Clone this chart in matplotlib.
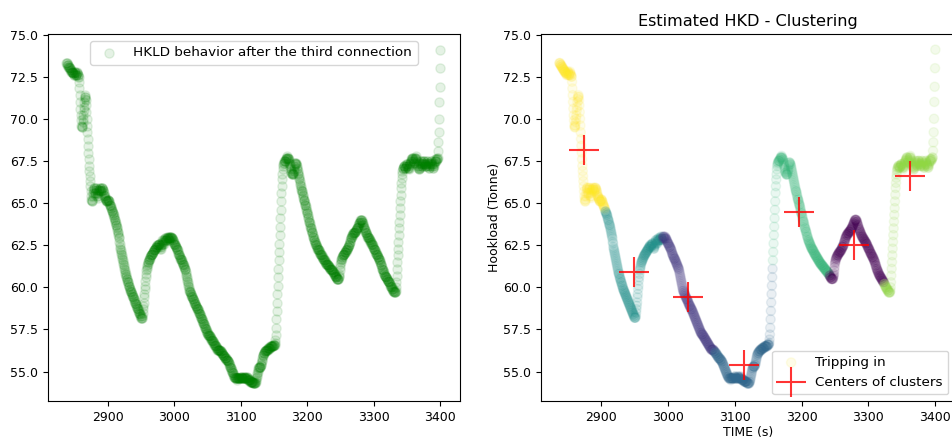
import matplotlib
matplotlib.use("Agg")
import matplotlib.pyplot as plt
import numpy as np

# hookload readings (tonne), one every 0.5 s starting at t = 2837 s
t_start = 2837.0
dt = 0.5
hookload = [
    73.3, 73.3, 73.3, 73.2, 73.2, 73.2, 73.1, 73.1, 73.1, 73.0, 73.0, 73.0, 72.9, 72.9, 72.9, 72.8, 72.8, 72.8, 72.8, 72.7,
    72.7, 72.7, 72.6, 72.6, 72.7, 72.8, 72.8, 72.7, 72.6, 72.6, 72.6, 72.7, 72.8, 72.7, 72.6, 72.6, 72.5, 72.5, 72.2, 71.8,
    71.4, 71.0, 70.6, 70.2, 69.9, 69.6, 69.5, 69.5, 69.6, 69.8, 70.0, 70.2, 70.5, 70.7, 71.0, 71.2, 71.3, 71.4, 71.3, 71.1,
    70.8, 70.4, 70.0, 69.6, 69.2, 68.8, 68.4, 68.0, 67.6, 67.2, 66.9, 66.6, 66.3, 66.0, 65.7, 65.4, 65.2, 65.1, 65.1, 65.2,
    65.4, 65.6, 65.8, 65.9, 65.9, 65.8, 65.6, 65.5, 65.6, 65.8, 65.9, 65.9, 65.8, 65.6, 65.4, 65.3, 65.4, 65.6, 65.7, 65.8,
    65.8, 65.9, 65.9, 65.8, 65.7, 65.7, 65.8, 65.9, 65.9, 65.9, 65.8, 65.8, 65.7, 65.6, 65.5, 65.4, 65.4, 65.3, 65.3, 65.2,
    65.2, 65.1, 65.1, 65.1, 65.1, 65.2, 65.2, 65.2, 65.1, 65.1, 65.0, 64.9, 64.9, 64.8, 64.8, 64.7, 64.7, 64.6, 64.5, 64.5,
    64.4, 64.4, 64.3, 64.3, 64.2, 64.1, 64.0, 64.0, 63.9, 63.8, 63.7, 63.7, 63.6, 63.5, 63.4, 63.3, 63.2, 63.1, 63.0, 62.9,
    62.7, 62.6, 62.4, 62.3, 62.2, 62.1, 62.0, 61.9, 61.8, 61.7, 61.6, 61.5, 61.4, 61.3, 61.2, 61.1, 61.0, 60.9, 60.8, 60.8,
    60.7, 60.6, 60.5, 60.5, 60.4, 60.3, 60.3, 60.2, 60.1, 60.1, 60.0, 59.9, 59.9, 59.8, 59.8, 59.7, 59.7, 59.6, 59.6, 59.5,
    59.5, 59.4, 59.4, 59.3, 59.3, 59.2, 59.2, 59.1, 59.1, 59.0, 59.0, 58.9, 58.9, 58.8, 58.8, 58.7, 58.7, 58.6, 58.6, 58.5,
    58.5, 58.4, 58.4, 58.3, 58.3, 58.2, 58.2, 58.2, 58.2, 58.3, 58.5, 58.7, 58.9, 59.1, 59.4, 59.6, 59.9, 60.1, 60.4, 60.6,
    60.8, 61.0, 61.1, 61.2, 61.3, 61.4, 61.5, 61.5, 61.6, 61.6, 61.7, 61.7, 61.8, 61.8, 61.9, 61.9, 61.9, 62.0, 62.0, 62.0,
    62.1, 62.1, 62.1, 62.2, 62.2, 62.2, 62.3, 62.3, 62.3, 62.4, 62.4, 62.4, 62.5, 62.5, 62.4, 62.4, 62.5, 62.5, 62.6, 62.6,
    62.6, 62.5, 62.4, 62.3, 62.3, 62.4, 62.5, 62.6, 62.7, 62.8, 62.8, 62.7, 62.6, 62.6, 62.7, 62.8, 62.9, 62.9, 62.8, 62.8,
    62.8, 62.8, 62.9, 62.9, 63.0, 63.0, 62.9, 62.9, 62.8, 62.8, 62.9, 63.0, 63.0, 63.0, 62.9, 62.9, 63.0, 63.0, 62.9, 62.9,
    62.9, 62.8, 62.8, 62.7, 62.7, 62.6, 62.6, 62.6, 62.5, 62.5, 62.4, 62.4, 62.4, 62.3, 62.3, 62.2, 62.2, 62.1, 62.0, 62.0,
    61.9, 61.9, 61.8, 61.8, 61.7, 61.7, 61.7, 61.6, 61.6, 61.5, 61.5, 61.4, 61.4, 61.3, 61.3, 61.2, 61.2, 61.1, 61.1, 61.0,
    60.9, 60.8, 60.7, 60.6, 60.5, 60.4, 60.3, 60.2, 60.1, 60.0, 59.9, 59.8, 59.8, 59.7, 59.7, 59.6, 59.6, 59.5, 59.5, 59.4,
    59.4, 59.3, 59.3, 59.3, 59.2, 59.2, 59.1, 59.1, 59.0, 59.0, 58.9, 58.9, 58.9, 58.8, 58.8, 58.7, 58.7, 58.7, 58.6, 58.6,
    58.5, 58.5, 58.4, 58.4, 58.3, 58.3, 58.2, 58.2, 58.1, 58.1, 58.0, 58.0, 57.9, 57.9, 57.8, 57.8, 57.7, 57.7, 57.6, 57.6,
    57.5, 57.5, 57.4, 57.4, 57.3, 57.3, 57.3, 57.2, 57.2, 57.2, 57.2, 57.1, 57.1, 57.1, 57.0, 57.0, 57.0, 56.9, 56.9, 56.9,
    56.8, 56.8, 56.8, 56.7, 56.7, 56.7, 56.6, 56.6, 56.6, 56.5, 56.5, 56.5, 56.4, 56.4, 56.4, 56.3, 56.3, 56.3, 56.3, 56.3,
    56.3, 56.3, 56.3, 56.2, 56.2, 56.2, 56.2, 56.1, 56.1, 56.1, 56.1, 56.0, 56.0, 56.0, 55.9, 55.9, 55.9, 55.8, 55.8, 55.8,
    55.8, 55.8, 55.7, 55.7, 55.7, 55.7, 55.6, 55.6, 55.6, 55.5, 55.5, 55.4, 55.4, 55.3, 55.3, 55.2, 55.2, 55.1, 55.1, 55.0,
    55.0, 54.9, 54.9, 54.8, 54.8, 54.7, 54.7, 54.7, 54.6, 54.6, 54.6, 54.6, 54.6, 54.6, 54.5, 54.6, 54.6, 54.6, 54.6, 54.6,
    54.6, 54.6, 54.6, 54.6, 54.6, 54.7, 54.7, 54.7, 54.6, 54.6, 54.6, 54.6, 54.6, 54.6, 54.6, 54.7, 54.7, 54.7, 54.6, 54.6,
    54.6, 54.6, 54.6, 54.7, 54.7, 54.6, 54.6, 54.5, 54.5, 54.5, 54.5, 54.5, 54.5, 54.5, 54.4, 54.4, 54.4, 54.4, 54.4, 54.4,
    54.4, 54.4, 54.4, 54.3, 54.3, 54.3, 54.3, 54.3, 54.3, 54.3, 54.4, 54.4, 54.5, 54.6, 54.7, 54.8, 54.9, 55.0, 55.1, 55.2,
    55.2, 55.3, 55.3, 55.3, 55.3, 55.3, 55.4, 55.4, 55.5, 55.6, 55.7, 55.8, 55.9, 56.0, 56.0, 56.1, 56.1, 56.1, 56.2, 56.2,
    56.2, 56.2, 56.3, 56.3, 56.3, 56.3, 56.3, 56.3, 56.4, 56.4, 56.4, 56.4, 56.4, 56.4, 56.4, 56.5, 56.5, 56.5, 56.5, 56.5,
    56.5, 56.5, 56.5, 56.5, 56.6, 56.6, 56.6, 56.6, 56.6, 56.7, 56.9, 57.2, 57.6, 58.1, 58.6, 59.1, 59.6, 60.1, 60.6, 61.1,
    61.6, 62.1, 62.6, 63.1, 63.6, 64.1, 64.6, 65.1, 65.6, 66.0, 66.4, 66.7, 67.0, 67.2, 67.3, 67.4, 67.4, 67.5, 67.5, 67.5,
    67.5, 67.6, 67.6, 67.7, 67.7, 67.7, 67.8, 67.7, 67.7, 67.6, 67.6, 67.5, 67.4, 67.3, 67.2, 67.1, 67.0, 66.9, 66.8, 66.8,
    66.7, 66.7, 66.7, 66.7, 66.8, 66.9, 67.0, 67.2, 67.3, 67.4, 67.4, 67.4, 67.3, 67.3, 67.2, 67.1, 67.0, 66.9, 66.8, 66.7,
    66.6, 66.5, 66.4, 66.3, 66.2, 66.1, 66.0, 65.9, 65.8, 65.7, 65.7, 65.6, 65.5, 65.4, 65.3, 65.2, 65.2, 65.1, 65.0, 64.9,
    64.9, 64.8, 64.7, 64.6, 64.5, 64.4, 64.4, 64.3, 64.2, 64.1, 64.0, 63.9, 63.9, 63.8, 63.7, 63.6, 63.5, 63.5, 63.4, 63.3,
    63.3, 63.2, 63.1, 63.0, 63.0, 62.9, 62.8, 62.8, 62.7, 62.7, 62.6, 62.6, 62.5, 62.5, 62.4, 62.4, 62.3, 62.3, 62.3, 62.2,
    62.2, 62.2, 62.1, 62.1, 62.0, 62.0, 62.0, 61.9, 61.9, 61.9, 61.8, 61.8, 61.8, 61.7, 61.7, 61.7, 61.6, 61.6, 61.6, 61.5,
    61.5, 61.5, 61.4, 61.4, 61.4, 61.4, 61.3, 61.3, 61.3, 61.3, 61.2, 61.2, 61.2, 61.2, 61.1, 61.1, 61.1, 61.1, 61.0, 61.0,
    61.0, 61.0, 60.9, 60.9, 60.9, 60.9, 60.8, 60.8, 60.8, 60.7, 60.7, 60.7, 60.6, 60.6, 60.6, 60.5, 60.5, 60.5, 60.5, 60.5,
    60.5, 60.6, 60.7, 60.8, 61.0, 61.2, 61.4, 61.5, 61.6, 61.7, 61.7, 61.8, 61.8, 61.9, 61.9, 61.9, 62.0, 62.0, 62.0, 62.1,
    62.1, 62.1, 62.1, 62.2, 62.2, 62.2, 62.3, 62.3, 62.4, 62.4, 62.4, 62.5, 62.5, 62.6, 62.7, 62.7, 62.8, 62.9, 62.9, 63.0,
    63.0, 63.1, 63.1, 63.1, 63.2, 63.2, 63.2, 63.2, 63.3, 63.3, 63.3, 63.3, 63.4, 63.4, 63.4, 63.5, 63.5, 63.5, 63.6, 63.6,
    63.7, 63.7, 63.8, 63.8, 63.9, 63.9, 64.0, 64.0, 64.0, 64.0, 64.0, 63.9, 63.9, 63.8, 63.7, 63.7, 63.6, 63.5, 63.5, 63.4,
    63.4, 63.3, 63.3, 63.2, 63.2, 63.1, 63.1, 63.0, 63.0, 63.0, 62.9, 62.9, 62.9, 62.8, 62.8, 62.8, 62.7, 62.7, 62.7, 62.6,
    62.6, 62.6, 62.5, 62.5, 62.4, 62.4, 62.3, 62.3, 62.3, 62.2, 62.2, 62.1, 62.1, 62.0, 62.0, 62.0, 61.9, 61.9, 61.8, 61.8,
    61.8, 61.7, 61.7, 61.6, 61.6, 61.5, 61.5, 61.4, 61.3, 61.3, 61.2, 61.1, 61.1, 61.0, 61.0, 60.9, 60.9, 60.8, 60.8, 60.7,
    60.7, 60.7, 60.6, 60.6, 60.6, 60.5, 60.5, 60.5, 60.4, 60.4, 60.4, 60.3, 60.3, 60.3, 60.2, 60.2, 60.1, 60.1, 60.0, 60.0,
    60.0, 59.9, 59.9, 59.9, 59.8, 59.8, 59.8, 59.7, 59.7, 59.7, 59.7, 59.7, 59.8, 60.0, 60.3, 60.7, 61.1, 61.5, 61.9, 62.3,
    62.7, 63.1, 63.5, 63.9, 64.3, 64.7, 65.1, 65.5, 65.9, 66.2, 66.5, 66.7, 66.9, 67.0, 67.1, 67.1, 67.2, 67.2, 67.2, 67.1,
    67.1, 67.1, 67.2, 67.2, 67.3, 67.3, 67.3, 67.2, 67.2, 67.1, 67.1, 67.0, 67.1, 67.2, 67.3, 67.4, 67.4, 67.5, 67.5, 67.6,
    67.6, 67.7, 67.7, 67.7, 67.6, 67.5, 67.4, 67.4, 67.5, 67.6, 67.7, 67.7, 67.8, 67.7, 67.6, 67.5, 67.4, 67.3, 67.2, 67.2,
    67.1, 67.1, 67.0, 67.0, 67.1, 67.2, 67.3, 67.4, 67.5, 67.5, 67.4, 67.3, 67.2, 67.2, 67.3, 67.4, 67.5, 67.5, 67.5, 67.4,
    67.3, 67.3, 67.2, 67.2, 67.2, 67.3, 67.4, 67.5, 67.5, 67.4, 67.3, 67.2, 67.2, 67.1, 67.1, 67.2, 67.3, 67.4, 67.5, 67.5,
    67.4, 67.3, 67.3, 67.2, 67.2, 67.1, 67.1, 67.2, 67.3, 67.4, 67.5, 67.5, 67.6, 67.6, 67.5, 67.5, 67.6, 67.6, 67.7, 67.7,
    68.1, 68.6, 69.2, 70.0, 71.0, 71.9, 73.0, 74.1,
]
time = t_start + dt * np.arange(len(hookload))

# k-means result: segment start times and the label of each segment
cluster_starts = [2837, 2906, 2992, 3070, 3157, 3242, 3324]
cluster_ids = [6, 3, 1, 2, 4, 0, 5]
labels = np.array(cluster_ids)[np.searchsorted(cluster_starts, time, side='right') - 1]

# cluster centres (time, hookload)
center_time = [2874, 2948.5, 3030, 3113.5, 3196.5, 3279, 3363]
center_hkld = [68.15, 60.9, 59.45, 55.4, 64.45, 62.5, 66.6]

plt.rcParams['font.size'] = 9
plt.rcParams['legend.fontsize'] = 9.7

fig = plt.figure(figsize=(9.52, 4.44), dpi=100)
ax1 = fig.add_axes([0.0504, 0.097, 0.4328, 0.826])
ax2 = fig.add_axes([0.5683, 0.097, 0.4349, 0.826])

ax1.scatter(time, hookload, s=44, c='green', alpha=0.1,
            label='HKLD behavior after the third connection')
ax1.legend(loc='upper center')

ax2.scatter(time, hookload, s=44, c=labels, cmap='viridis', alpha=0.1, label='Tripping in')
ax2.scatter(center_time, center_hkld, marker='+', s=470, c='red', alpha=0.8,
            linewidths=1.5, label='Centers of clusters')
ax2.set_title('Estimated HKD - Clustering', fontsize=11.6)
ax2.set_xlabel('TIME (s)', labelpad=1.5)
ax2.set_ylabel('Hookload (Tonne)', labelpad=1.5)
ax2.legend(loc='lower right')

for ax in (ax1, ax2):
    ax.set_xlim(2809.5, 3430)
    ax.set_ylim(53.26, 75.02)
    ax.set_xticks([2900, 3000, 3100, 3200, 3300, 3400])
    ax.set_yticks(np.arange(55, 75.1, 2.5))

fig.savefig('out.png', dpi=100)
